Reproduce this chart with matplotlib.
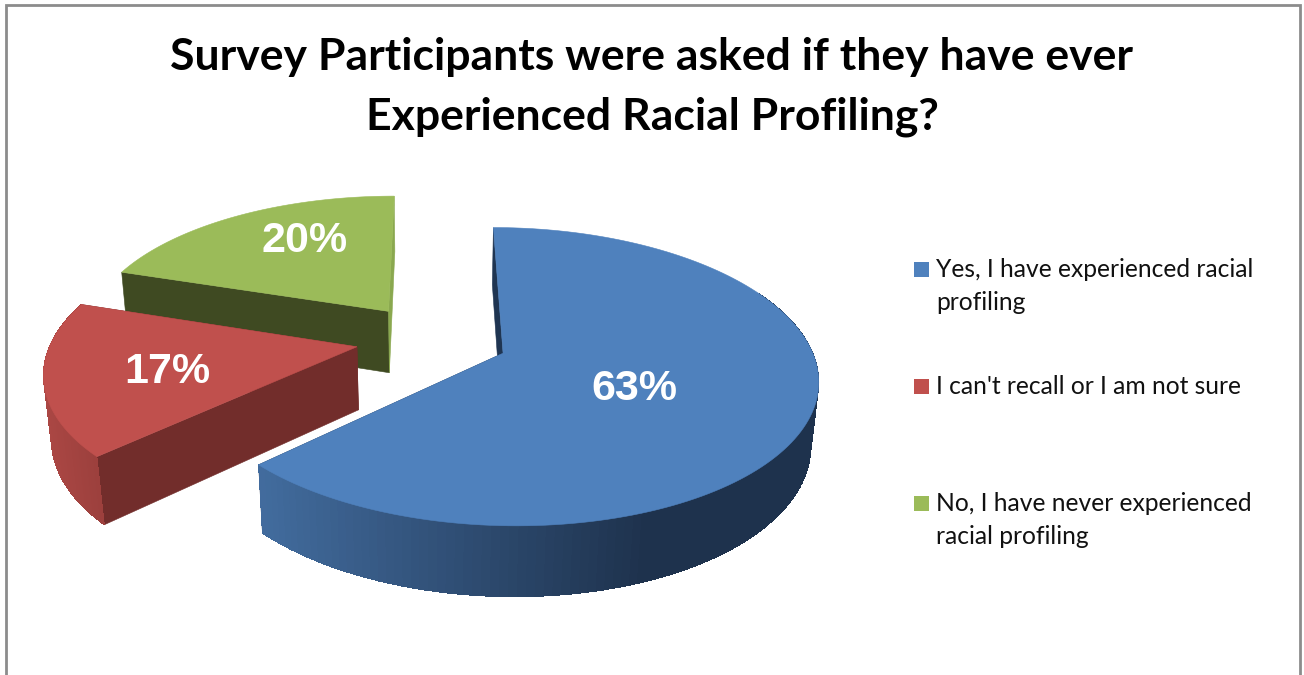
import numpy as np
import matplotlib
matplotlib.use("Agg")
import matplotlib.pyplot as plt
from matplotlib.patches import Polygon, Rectangle
from matplotlib.colors import to_rgb

title = "Survey Participants were asked if they have ever\nExperienced Racial Profiling?"
categories = ["Yes, I have experienced racial\nprofiling",
              "I can't recall or I am not sure",
              "No, I have never experienced\nracial profiling"]
values = [63, 17, 20]
colors = ["#4F81BD", "#C0504D", "#9BBB59"]
cut_colors = ["#1F3552", "#722D2B", "#3F4A22"]
side_light = ["#426C9E", "#AB4744", "#8AA84F"]
side_dark = ["#1E324D", "#9C403D", "#6E8A3A"]
label_xy = [(634, 389), (167, 372), (305, 241)]
legend_y = [269, 386, 503]

# projection parameters (pixels)
CX, CY, AX, CV, K, DEPTH, M, EXPLODE = 432, 339, 305, 141, 0.155, 64, 0.02, 0.25


def project(u, v, z=0.0):
    w = 1 + K * v + M * z
    return CX + AX * u / w, CY + (-CV * v + DEPTH * z) / w


def mix(a, b, t):
    a, b = np.array(to_rgb(a)), np.array(to_rgb(b))
    t = np.clip(t, 0, 1)
    return tuple(a + (b - a) * t)


fig = plt.figure(figsize=(13.04, 6.75), dpi=100)
ax = fig.add_axes([0, 0, 1, 1])
ax.set_xlim(0, 1304)
ax.set_ylim(675, 0)
ax.axis("off")

# chart frame (open at the bottom, where the image is cut)
ax.plot([5.5, 5.5, 1299.5, 1299.5], [675, 4.5, 4.5, 675], color="#8C8C8C", lw=2, solid_joinstyle="miter")

total = sum(values)
edges = np.cumsum([0] + values) / total * 2 * np.pi
order = [2, 1, 0]  # back to front
for i in order:
    a0, a1 = edges[i], edges[i + 1]
    mid = (a0 + a1) / 2
    ox, oy = EXPLODE * np.sin(mid), EXPLODE * np.cos(mid)
    th = np.linspace(a0, a1, 160)
    us, vs = ox + np.sin(th), oy + np.cos(th)
    layer = order.index(i)

    # cut faces
    for a in (a0, a1):
        ue, ve = ox + np.sin(a), oy + np.cos(a)
        quad = [project(ox, oy), project(ue, ve), project(ue, ve, 1), project(ox, oy, 1)]
        fc = side_light[2] if (i == 2 and a == a1) else cut_colors[i]
        ax.add_patch(Polygon(quad, closed=True, fc=fc, ec=fc, lw=0.4, zorder=1 + layer))

    # outer rim, shaded along the horizontal direction; overlapping strips avoid seams
    for j in range(len(th) - 1):
        if vs[j] >= 0.35:
            continue
        k = min(j + 3, len(th) - 1)
        p0, p1 = project(us[j], vs[j]), project(us[k], vs[k])
        q0, q1 = project(us[j], vs[j], 1), project(us[k], vs[k], 1)
        if i == 0:
            t = (p0[0] - 260) / 390
        elif i == 1:
            t = (p0[0] - 45) / 55
        else:
            t = 0.5
        c = mix(side_light[i], side_dark[i], t)
        ax.add_patch(Polygon([p0, p1, q1, q0], closed=True, fc=c, ec="none", antialiased=False,
                             zorder=1.1 + layer + j * 1e-4 * (1 if i == 0 else -1)))

    # top surface
    top = [project(ox, oy)] + [project(u, v) for u, v in zip(us, vs)]
    ax.add_patch(Polygon(top, closed=True, fc=colors[i], ec=colors[i], lw=0.4, zorder=1.5 + layer))

    ax.text(*label_xy[i], f"{values[i]}%", color="white", fontsize=31, fontweight="bold",
            family="Liberation Sans", ha="center", va="center", zorder=10)

    # legend
    ax.add_patch(Rectangle((914, legend_y[i] - 7), 15, 15, fc=colors[i], ec="none", zorder=10))
    ax.text(936, legend_y[i] - 11, categories[i], fontsize=17.75, family="Lato", color="#111111",
            ha="left", va="top", linespacing=1.55, zorder=10)

ax.text(652, 87, title, fontsize=32, fontweight="bold", family="Lato", color="black",
        ha="center", va="center", linespacing=1.58, zorder=10)

fig.savefig("out.png", dpi=100)
